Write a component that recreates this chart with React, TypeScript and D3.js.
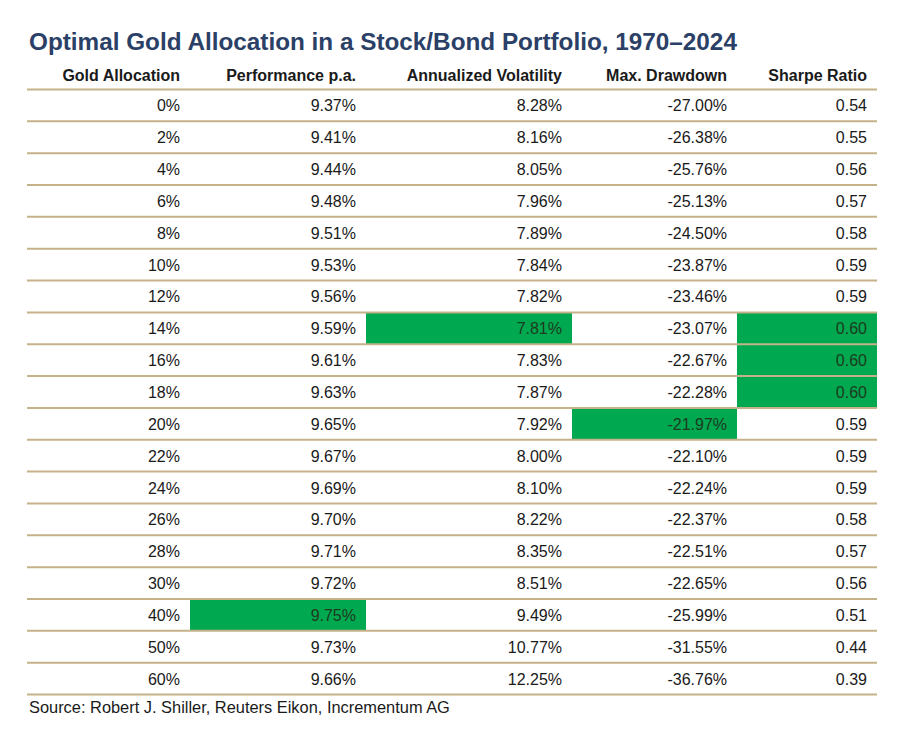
import React from "react";
import * as d3 from "d3";

const allocations = ["0%", "2%", "4%", "6%", "8%", "10%", "12%", "14%", "16%", "18%", "20%", "22%", "24%", "26%", "28%", "30%", "40%", "50%", "60%"];
const performance = [9.37, 9.41, 9.44, 9.48, 9.51, 9.53, 9.56, 9.59, 9.61, 9.63, 9.65, 9.67, 9.69, 9.70, 9.71, 9.72, 9.75, 9.73, 9.66];
const volatility = [8.28, 8.16, 8.05, 7.96, 7.89, 7.84, 7.82, 7.81, 7.83, 7.87, 7.92, 8.00, 8.10, 8.22, 8.35, 8.51, 9.49, 10.77, 12.25];
const drawdown = [-27.00, -26.38, -25.76, -25.13, -24.50, -23.87, -23.46, -23.07, -22.67, -22.28, -21.97, -22.10, -22.24, -22.37, -22.51, -22.65, -25.99, -31.55, -36.76];
const sharpe = [0.54, 0.55, 0.56, 0.57, 0.58, 0.59, 0.59, 0.60, 0.60, 0.60, 0.59, 0.59, 0.59, 0.58, 0.57, 0.56, 0.51, 0.44, 0.39];
const headers = ["Gold Allocation", "Performance p.a.", "Annualized Volatility", "Max. Drawdown", "Sharpe Ratio"];
// highlighted cells: [rowIndex, columnIndex]
const highlights: [number, number][] = [[7, 2], [7, 4], [8, 4], [9, 4], [10, 3], [16, 1]];

const title = "Optimal Gold Allocation in a Stock/Bond Portfolio, 1970\u20132024";
const source = "Source: Robert J. Shiller, Reuters Eikon, Incrementum AG";

export default function App() {
  const W = 900, H = 736;
  const colEdges = [27, 190, 366, 572, 737, 877];
  const top = 89.5, bottom = 694.5;
  const y = d3.scaleBand<number>().domain(d3.range(allocations.length)).range([top, bottom]).paddingInner(0).paddingOuter(0);
  const f2 = d3.format(".2f");
  const fmtNum = (v: number) => (v < 0 ? "-" + f2(-v) : f2(v));
  const fmtPct = (v: number) => fmtNum(v) + "%";
  const rows = allocations.map((a, i) => [a, fmtPct(performance[i]), fmtPct(volatility[i]), fmtPct(drawdown[i]), fmtNum(sharpe[i])]);
  const font = "'Liberation Sans', Arial, Helvetica, sans-serif";
  const green = "#00a84f";
  const lineColor = "#c6b28a";
  const pad = 10;
  const bw = y.bandwidth();

  return (
    <svg width={W} height={H} style={{ position: "absolute", left: 0, top: 0, background: "#fff" }} fontFamily={font}>
      <rect width={W} height={H} fill="#fff" />
      <text x={29} y={50} fontSize={24.3} fontWeight="bold" fill="#2b4066">{title}</text>
      {headers.map((h, c) => (
        <text key={h} x={colEdges[c + 1] - pad} y={81} textAnchor="end" fontSize={16} fontWeight="bold" fill="#1a1a1a">{h}</text>
      ))}
      {highlights.map(([r, c]) => (
        <rect key={`h${r}-${c}`} x={colEdges[c]} y={y(r)!} width={colEdges[c + 1] - colEdges[c]} height={bw} fill={green} />
      ))}
      {d3.range(allocations.length + 1).map((i) => {
        const yy = top + i * bw;
        return <line key={`l${i}`} x1={colEdges[0]} x2={colEdges[5]} y1={yy} y2={yy} stroke={lineColor} strokeWidth={2} />;
      })}
      {rows.map((row, r) =>
        row.map((v, c) => (
          <text key={`t${r}-${c}`} x={colEdges[c + 1] - pad} y={y(r)! + bw / 2 + 6} textAnchor="end" fontSize={16}
            fill={highlights.some(([hr, hc]) => hr === r && hc === c) ? "#1d3b1f" : "#1a1a1a"}>{v}</text>
        ))
      )}
      <text x={29} y={713} fontSize={16.4} fill="#1a1a1a">{source}</text>
    </svg>
  );
}
